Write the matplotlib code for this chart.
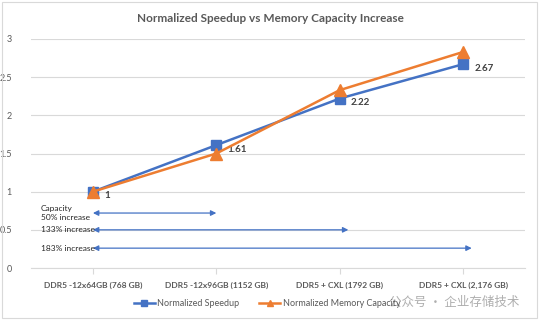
import matplotlib
matplotlib.use("Agg")
import matplotlib.pyplot as plt
from matplotlib.patches import Rectangle

categories = ["DDR5 -12x64GB (768 GB)", "DDR5 -12x96GB (1152 GB)", "DDR5 + CXL (1792 GB)", "DDR5 + CXL (2,176 GB)"]
speedup = [1, 1.61, 2.22, 2.67]
capacity = [1, 1.5, 2.33, 2.83]
speedup_labels = ["1", "1.61", "2.22", "2.67"]
arrow_labels = ["Capacity\n50% increase", "133% increase", "183% increase"]
arrow_y = [0.72, 0.5, 0.26]
arrow_end = [1.0, 2.07, 3.07]

plt.rcParams['font.family'] = ['Lato', 'DejaVu Sans']

fig = plt.figure(figsize=(5.4, 3.24), dpi=100)
ax = fig.add_axes([31.25/540, 1-268/324, 493.5/540, 229/324])

x = list(range(len(categories)))
blue = "#4472C4"
orange = "#ED7D31"
ax.plot(x, speedup, color=blue, lw=1.8, marker='s', ms=7, label="Normalized Speedup", zorder=3)
ax.plot(x, capacity, color=orange, lw=1.8, marker='^', ms=8, label="Normalized Memory Capacity", zorder=4)

for xi, v, lab in zip(x, speedup, speedup_labels):
    ax.annotate(lab, (xi, v), xytext=(8, -3), textcoords='offset points',
                fontsize=7, fontweight='bold', color='#404040', va='center', ha='left')

for y, end, lab in zip(arrow_y, arrow_end, arrow_labels):
    ax.annotate("", xy=(end, y), xytext=(0, y),
                arrowprops=dict(arrowstyle='<|-|>', color=blue, lw=0.9,
                                mutation_scale=8, shrinkA=0, shrinkB=0))
    ax.text(-0.42, y, lab, fontsize=6, color='#262626', va='center', ha='left',
            linespacing=1.35)

ax.set_xlim(-0.5, 3.5)
ax.set_ylim(0, 3)
ax.set_yticks([0, 0.5, 1, 1.5, 2, 2.5, 3])
ax.set_yticklabels(["0", "0.5", "1", "1.5", "2", "2.5", "3"])
ax.set_xticks(x)
ax.set_xticklabels(categories, fontsize=6, fontweight='bold', color='#595959')
ax.tick_params(axis='y', length=0, labelsize=6.5, labelcolor='#595959', pad=14)
ax.tick_params(axis='x', length=4, color='#D9D9D9', pad=6)
ax.grid(axis='y', color='#D9D9D9', lw=0.8)
ax.set_axisbelow(True)
for s in ['top', 'right', 'left']:
    ax.spines[s].set_visible(False)
ax.spines['bottom'].set_color('#D9D9D9')

fig.text(0.5, 1-18/324, "Normalized Speedup vs Memory Capacity Increase", ha='center', va='center',
         fontsize=8.5, fontweight='bold', color='#595959')

fig.legend(loc='center', bbox_to_anchor=(0.495, 1-304/324), ncol=2, frameon=False,
           fontsize=6.5, handlelength=2.3, columnspacing=2.2, handletextpad=0.3,
           markerscale=0.6, labelcolor='#595959')

fig.text(0.962, 1-302/324, "公众号 · 企业存储技术", ha='right', va='center', fontsize=9,
         color='#9a9a9a', alpha=0.8, family=['Noto Sans CJK SC', 'DejaVu Sans'])

fig.patches.append(Rectangle((2/540, 1-318/324), 535/540, 316/324, transform=fig.transFigure,
                             fill=False, edgecolor='#D9D9D9', lw=0.8))

fig.savefig("out.png", dpi=100)
